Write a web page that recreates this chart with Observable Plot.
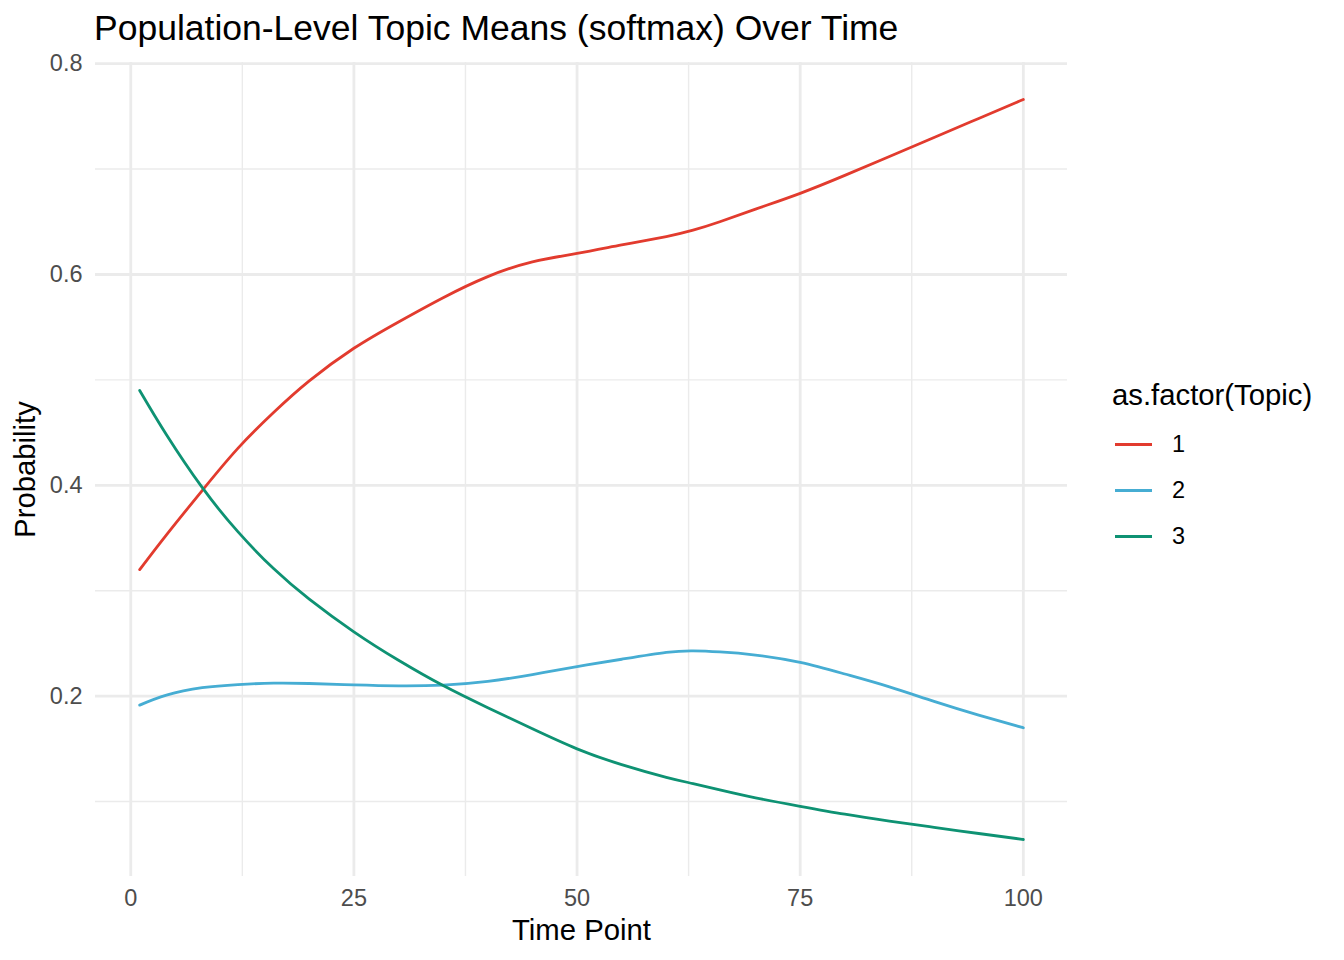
<!DOCTYPE html>
<html>
<head>
<meta charset="utf-8">
<script src="https://cdn.jsdelivr.net/npm/d3@7"></script>
<script src="https://cdn.jsdelivr.net/npm/@observablehq/plot@0.6"></script>
<style>
  html, body { margin: 0; padding: 0; background: #fff; }
  #wrap { position: relative; width: 1344px; height: 960px; font-family: "Liberation Sans", Arial, Helvetica, sans-serif; }
  #title { position: absolute; left: 94px; top: 8px; font-size: 35.5px; color: #000; white-space: nowrap; line-height: 40px; }
  #chart { position: absolute; left: 0; top: 50px; }
  #legend { position: absolute; left: 1112px; top: 378px; }
  #legend .ltitle { font-size: 29.3px; line-height: 34px; color: #000; white-space: nowrap; }
  #legend .row { position: relative; height: 46px; }
  #legend .key { position: absolute; left: 3px; top: 22px; width: 37px; height: 3px; }
  #legend .lab { position: absolute; left: 60px; top: 9px; font-size: 23.5px; line-height: 28px; color: #000; }
</style>
</head>
<body>
<div id="wrap">
  <div id="title"></div>
  <div id="chart"></div>
  <div id="legend"></div>
</div>
<script>
// ---- data ----
const timePoints = [1, 4, 8, 12, 16, 20, 25, 30, 35, 40, 45, 50, 55, 60, 63, 66, 70, 75, 80, 85, 90, 95, 100];
const topic1 = [0.320, 0.353, 0.395, 0.435, 0.469, 0.499, 0.530, 0.555, 0.578, 0.598, 0.612, 0.620, 0.628, 0.636, 0.642, 0.650, 0.662, 0.677, 0.694, 0.712, 0.730, 0.748, 0.766];
const topic2 = [0.1915, 0.201, 0.208, 0.211, 0.2123, 0.212, 0.2107, 0.2098, 0.2105, 0.214, 0.2205, 0.228, 0.235, 0.2415, 0.243, 0.242, 0.239, 0.232, 0.221, 0.2088, 0.195, 0.182, 0.170];
const topic3 = [0.490, 0.448, 0.398, 0.356, 0.321, 0.292, 0.261, 0.234, 0.210, 0.189, 0.169, 0.150, 0.135, 0.123, 0.117, 0.111, 0.1035, 0.0955, 0.088, 0.0815, 0.0755, 0.0697, 0.064];
const topicLabels = ["1", "2", "3"];
const topicColors = ["#E23B2E", "#46ADD3", "#0E9273"];
const xMajor = [0, 25, 50, 75, 100];
const xMinor = [12.5, 37.5, 62.5, 87.5];
const yMajor = [0.2, 0.4, 0.6, 0.8];
const yMinor = [0.1, 0.3, 0.5, 0.7];
const titleText = "Population-Level Topic Means (softmax) Over Time";
const xTitle = "Time Point";
const yTitle = "Probability";
const legendTitle = "as.factor(Topic)";

// ---- build table ----
const series = [topic1, topic2, topic3];
const rows = [];
series.forEach((vals, i) => vals.forEach((v, j) => rows.push({time: timePoints[j], prob: v, topic: topicLabels[i]})));

const xMin = d3.min(timePoints), xMax = d3.max(timePoints);
const yMinV = d3.min(rows, d => d.prob), yMaxV = d3.max(rows, d => d.prob);
const xPad = (xMax - xMin) * 0.05, yPad = (yMaxV - yMinV) * 0.05;

document.getElementById("title").textContent = titleText;

const gridColor = "#EBEBEB";
const chart = Plot.plot({
  width: 1344,
  height: 910,
  marginLeft: 95,
  marginRight: 277,
  marginTop: 12,
  marginBottom: 84,
  style: {fontFamily: '"Liberation Sans", Arial, Helvetica, sans-serif', background: "transparent", overflow: "visible"},
  x: {domain: [xMin - xPad, xMax + xPad]},
  y: {domain: [yMinV - yPad, yMaxV + yPad]},
  color: {domain: topicLabels, range: topicColors},
  marks: [
    Plot.ruleY(yMinor, {stroke: gridColor, strokeWidth: 1.4}),
    Plot.ruleX(xMinor, {stroke: gridColor, strokeWidth: 1.4}),
    Plot.ruleY(yMajor, {stroke: gridColor, strokeWidth: 2.8}),
    Plot.ruleX(xMajor, {stroke: gridColor, strokeWidth: 2.8}),
    Plot.axisX({ticks: xMajor, tickSize: 0, tickPadding: 13, fontSize: 23.5, color: "#4D4D4D", label: null}),
    Plot.axisY({ticks: yMajor, tickSize: 0, tickPadding: 13, fontSize: 23.5, color: "#4D4D4D", label: null}),
    Plot.line(rows, {x: "time", y: "prob", stroke: "topic", z: "topic", strokeWidth: 2.8, curve: "natural"}),
    Plot.text([xTitle], {frameAnchor: "bottom", dy: 54, text: d => d, fontSize: 29.3, fill: "#000", lineAnchor: "middle", textAnchor: "middle"}),
    Plot.text([yTitle], {frameAnchor: "left", dx: -70, rotate: -90, text: d => d, fontSize: 29.3, fill: "#000", lineAnchor: "middle", textAnchor: "middle"})
  ]
});
document.getElementById("chart").appendChild(chart);

// ---- legend ----
const legend = document.getElementById("legend");
const lt = document.createElement("div");
lt.className = "ltitle";
lt.textContent = legendTitle;
legend.appendChild(lt);
const lrows = document.createElement("div");
lrows.style.marginTop = "9px";
topicLabels.forEach((lab, i) => {
  const r = document.createElement("div"); r.className = "row";
  const k = document.createElement("div"); k.className = "key"; k.style.background = topicColors[i];
  const t = document.createElement("div"); t.className = "lab"; t.textContent = lab;
  r.appendChild(k); r.appendChild(t); lrows.appendChild(r);
});
legend.appendChild(lrows);
</script>
</body>
</html>
